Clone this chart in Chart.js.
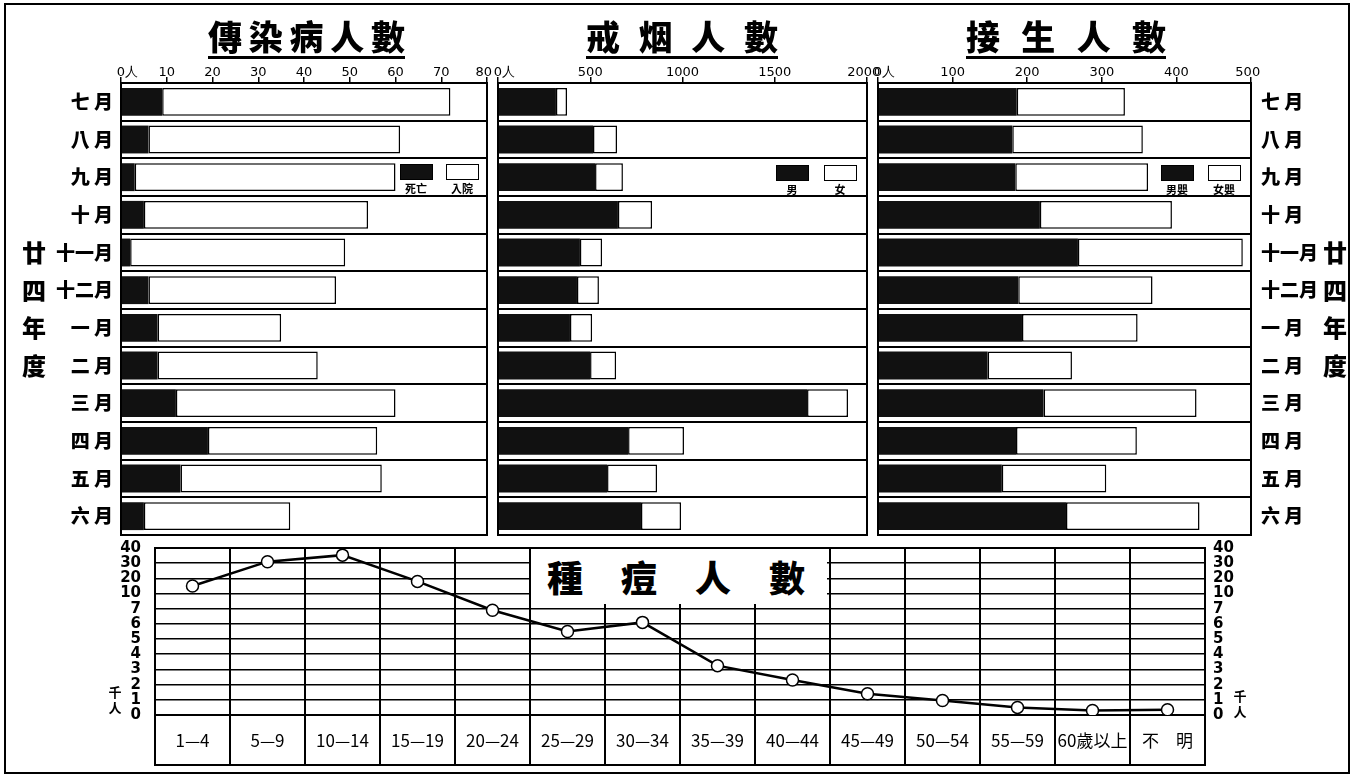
<!DOCTYPE html>
<html>
<head>
<meta charset="utf-8">
<script src="https://cdn.jsdelivr.net/npm/chart.js@4.4.1/dist/chart.umd.min.js"></script>
<style>
html, body { margin: 0; padding: 0; background: #fff; }
#page { position: relative; width: 1356px; height: 780px; overflow: hidden; font-family: "Noto Sans CJK TC", sans-serif; color: #000; }
#page canvas { position: absolute; }
.frame { position: absolute; left: 4px; top: 3px; width: 1342px; height: 767px; border: 2px solid #000; }
.title { position: absolute; top: 16px; height: 40px; display: flex; justify-content: space-between; font-size: 34px; font-weight: 900; line-height: 40px; border-bottom: 3px solid #000; }
.year { position: absolute; top: 233px; width: 30px; font-size: 24px; font-weight: 900; line-height: 37.7px; text-align: center; }
.unit { position: absolute; width: 16px; font-size: 13px; font-weight: 700; line-height: 16px; text-align: center; }
.lg { position: absolute; width: 33px; height: 16px; border: 1.5px solid #000; box-sizing: border-box; }
.lgt { position: absolute; width: 40px; font-size: 11px; font-weight: 700; line-height: 12px; text-align: center; }
.boxtitle { position: absolute; left: 531px; top: 549px; width: 296px; height: 55px; background: #fff; z-index: 2; font-size: 36px; font-weight: 900; line-height: 55px; display: flex; justify-content: space-between; padding: 0 22px 0 16px; box-sizing: border-box; }
</style>
</head>
<body>
<div id="page">
  <div class="frame"></div>
  <canvas id="c1" width="500" height="545" style="left:0;top:0"></canvas>
  <canvas id="c2" width="400" height="545" style="left:480px;top:0"></canvas>
  <canvas id="c3" width="496" height="545" style="left:860px;top:0"></canvas>
  <canvas id="c4" width="1170" height="236" style="left:95px;top:538px"></canvas>
</div>
<script>
const months = ['七月', '八月', '九月', '十月', '十一月', '十二月', '一月', '二月', '三月', '四月', '五月', '六月'];

// 傳染病人數
const deaths = [9, 6, 3, 5, 2, 6, 8, 8, 12, 19, 13, 5];
const admitted = [63, 55, 57, 49, 47, 41, 27, 35, 48, 37, 44, 32];
const diseaseTicks = ['0人', '10', '20', '30', '40', '50', '60', '70', '80'];

// 戒烟人數
const quitMale = [314, 515, 526, 650, 444, 428, 390, 499, 1675, 705, 591, 775];
const quitFemale = [60, 130, 151, 185, 120, 119, 120, 141, 222, 303, 271, 217];
const quitTicks = ['0人', '500', '1000', '1500', '2000'];

// 接生人數
const boys = [186, 180, 184, 217, 268, 188, 193, 147, 222, 185, 166, 252];
const girls = [145, 175, 178, 177, 221, 180, 155, 113, 205, 162, 140, 179];
const birthTicks = ['0人', '100', '200', '300', '400', '500'];

// 種痘人數
const ageGroups = ['1—4', '5—9', '10—14', '15—19', '20—24', '25—29', '30—34', '35—39', '40—44', '45—49', '50—54', '55—59', '60歲以上', '不　明'];
const vaccinated = [15000, 31000, 35300, 18000, 6900, 5500, 6100, 3250, 2300, 1400, 950, 500, 300, 350];
const vacTicks = [0, 1000, 2000, 3000, 4000, 5000, 6000, 7000, 10000, 20000, 30000, 40000];

const FONT = '"Noto Sans CJK TC", sans-serif';
Chart.defaults.font.family = FONT;
Chart.defaults.color = '#000';
Chart.defaults.animation = false;
Chart.defaults.plugins.legend.display = false;
Chart.defaults.plugins.tooltip.enabled = false;

// outline round the plot area (and the label boxes below the line chart)
Chart.register({
  id: 'frame',
  afterDraw(chart, args, opts) {
    const a = chart.chartArea, ctx = chart.ctx;
    ctx.save();
    ctx.strokeStyle = '#000';
    ctx.lineWidth = 2;
    ctx.strokeRect(a.left, a.top, a.right - a.left, a.bottom - a.top + (opts.extend || 0));
    ctx.restore();
  }
});

// broken vertical axis: 0-7 thousand, then 10/20/30/40 thousand at one step each
function toPos(v) {
  if (v <= 7000) return v / 1000;
  if (v < 10000) return 7 + (v - 7000) / 3000;
  return 7 + v / 10000;
}
function fromPos(p) {
  if (p <= 7) return p * 1000;
  if (p < 8) return 7000 + (p - 7) * 3000;
  return (p - 7) * 10000;
}
const LinearScale = Chart.registry.getScale('linear');
class BrokenScale extends LinearScale {
  buildTicks() { return vacTicks.map(v => ({ value: v })); }
  getPixelForValue(v) { return this.getPixelForDecimal(toPos(v) / 11); }
  getValueForPixel(px) { return fromPos(this.getDecimalForPixel(px) * 11); }
}
BrokenScale.id = 'broken';
BrokenScale.defaults = {};
Chart.register(BrokenScale);

const page = document.getElementById('page');
function addDiv(cls, css, text) {
  const d = document.createElement('div');
  d.className = cls;
  Object.assign(d.style, css);
  if (text !== undefined) d.textContent = text;
  page.appendChild(d);
  return d;
}
function addSpaced(cls, css, text) {
  const d = addDiv(cls, css);
  for (const ch of text) {
    const s = document.createElement('span');
    s.textContent = ch;
    d.appendChild(s);
  }
  return d;
}

// spread two-character month names like the original lettering
const monthLabel = m => m.length === 2 ? m[0] + ' ' + m[1] : m;

function barPanel(id, p) {
  const last = p.ticks.length - 1;
  const chart = new Chart(document.getElementById(id), {
    type: 'bar',
    data: {
      labels: months,
      datasets: [
        { label: p.labels[0], data: p.dark, backgroundColor: '#111', borderWidth: 0 },
        { label: p.labels[1], data: p.light, backgroundColor: '#fff', borderColor: '#000', borderWidth: 1.5, borderSkipped: false }
      ]
    },
    options: {
      responsive: false,
      indexAxis: 'y',
      barPercentage: 0.74,
      categoryPercentage: 1,
      layout: { padding: p.padding },
      plugins: { frame: {} },
      scales: {
        x: {
          position: 'top',
          stacked: true,
          min: 0, max: p.max,
          ticks: {
            stepSize: p.max / last, autoSkip: false, maxRotation: 0, padding: -3,
            font: { family: '"DejaVu Sans", sans-serif', size: 13 },
            callback: (v, i) => i === 0 ? '\u2003' + p.ticks[i] : (i === last ? p.ticks[i] + '\u2002' : p.ticks[i])
          },
          grid: { drawOnChartArea: false, tickLength: 6, color: '#000', lineWidth: 1.5 },
          border: { display: true, color: '#000', width: 2 },
          afterFit: s => { s.height = 83; s.paddingLeft = 0; s.paddingRight = 0; }
        },
        y: {
          position: p.yPos,
          stacked: true,
          offset: true,
          ticks: {
            display: p.showMonths, padding: p.yPad, font: { size: 19, weight: 900 },
            callback: (v, i) => monthLabel(months[i])
          },
          grid: { offset: true, drawTicks: false, color: '#000', lineWidth: 2 },
          border: { display: true, color: '#000', width: 2 },
          afterFit: s => { s.width = p.yWidth; s.paddingTop = 0; s.paddingBottom = 0; }
        }
      }
    }
  });
  // legend boxes inside the 九月 row
  chart.data.datasets.forEach((ds, i) => {
    const x = p.legendX[i];
    addDiv('lg', { left: x + 'px', top: p.legendY + 'px', background: ds.backgroundColor });
    addDiv('lgt', { left: (x - 4) + 'px', top: (p.legendY + 18) + 'px' }, ds.label);
  });
  return chart;
}

barPanel('c1', { dark: deaths, light: admitted, labels: ['死亡', '入院'], max: 80, ticks: diseaseTicks,
  padding: { left: 0, right: 13, top: 0, bottom: 10 }, yPos: 'left', showMonths: true, yPad: 8, yWidth: 121,
  legendX: [400, 446], legendY: 164 });
barPanel('c2', { dark: quitMale, light: quitFemale, labels: ['男', '女'], max: 2000, ticks: quitTicks,
  padding: { left: 0, right: 13, top: 0, bottom: 10 }, yPos: 'left', showMonths: false, yPad: 0, yWidth: 18,
  legendX: [776, 824], legendY: 165 });
barPanel('c3', { dark: boys, light: girls, labels: ['男嬰', '女嬰'], max: 500, ticks: birthTicks,
  padding: { left: 18, right: 0, top: 0, bottom: 10 }, yPos: 'right', showMonths: true, yPad: 10, yWidth: 105,
  legendX: [1161, 1208], legendY: 165 });

const yAxis = (pos, pad) => ({
  type: 'broken',
  position: pos,
  min: 0, max: 40000,
  ticks: {
    autoSkip: false, padding: pad,
    font: { family: '"DejaVu Sans", sans-serif', size: 15, weight: 'bold' },
    callback: v => String(v / 1000)
  },
  grid: { drawOnChartArea: pos === 'left', drawTicks: false, color: '#000', lineWidth: 1.6 },
  border: { display: true, color: '#000', width: 2 },
  afterFit: s => { s.width = 60; s.paddingTop = 0; s.paddingBottom = 0; }
});

new Chart(document.getElementById('c4'), {
  type: 'line',
  data: {
    labels: ageGroups,
    datasets: [{
      label: '種痘人數',
      data: vaccinated,
      yAxisID: 'y',
      borderColor: '#000',
      borderWidth: 2.5,
      pointRadius: 6,
      pointBackgroundColor: '#fff',
      pointBorderColor: '#000',
      pointBorderWidth: 1.5,
      tension: 0
    }]
  },
  options: {
    responsive: false,
    layout: { padding: { top: 10, left: 0, right: 0, bottom: 0 } },
    plugins: { frame: { extend: 50 } },
    scales: {
      x: {
        type: 'category',
        offset: true,
        ticks: { autoSkip: false, maxRotation: 0, padding: -35, font: { size: 17 } },
        grid: { offset: true, tickLength: 50, color: '#000', lineWidth: 2 },
        border: { display: true, color: '#000', width: 2 },
        afterFit: s => { s.height = 59; s.paddingLeft = 0; s.paddingRight = 0; }
      },
      y: yAxis('left', 14),
      y2: yAxis('right', 8)
    }
  }
});

// titles and side labels
addSpaced('title', { left: '208px', width: '197px' }, '傳染病人數');
addSpaced('title', { left: '586px', width: '192px' }, '戒烟人數');
addSpaced('title', { left: '966px', width: '200px' }, '接生人數');
addSpaced('boxtitle', {}, '種痘人數');
addDiv('year', { left: '19px' }, '廿四年度');
addDiv('year', { left: '1320px' }, '廿四年度');
addDiv('unit', { left: '107px', top: '684px' }, '千人');
addDiv('unit', { left: '1232px', top: '688px' }, '千人');
</script>
</body>
</html>
